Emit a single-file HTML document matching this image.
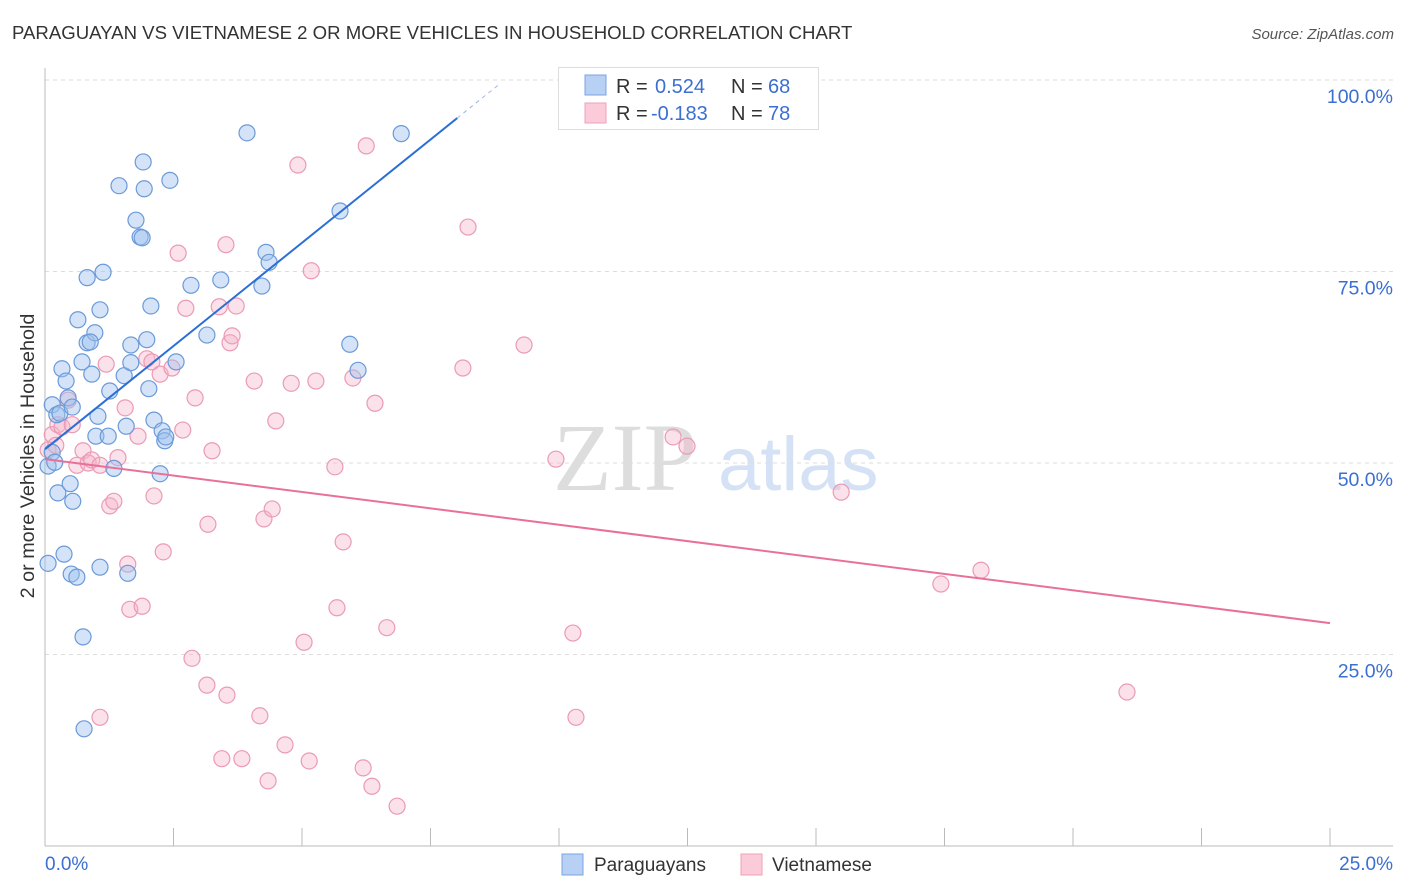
<!DOCTYPE html>
<html><head><meta charset="utf-8"><style>
body{margin:0;background:#fff;font-family:"Liberation Sans",sans-serif;}
#wrap{position:relative;width:1406px;height:892px;overflow:hidden;}
</style></head><body>
<div id="wrap">
<svg id="chart" width="1406" height="892"></svg>
</div>
<script>
const blueX=[0.06,0.14,0.23,0.29,0.14,0.19,0.06,0.25,0.33,0.41,0.45,0.49,0.53,0.54,0.37,0.51,0.62,0.64,0.72,0.82,0.82,0.91,0.97,1.03,0.99,1.07,1.13,1.07,0.74,0.76,1.23,1.26,1.34,1.44,1.54,1.58,1.61,1.67,1.67,1.77,1.85,1.89,1.91,1.93,1.98,2.02,2.06,2.12,2.24,2.28,2.33,2.35,2.43,2.55,2.84,3.15,3.42,3.93,4.30,4.36,4.22,5.74,5.93,6.09,6.93,0.88];
const blueY=[49.6,57.6,56.3,56.5,51.4,50.1,36.9,46.1,62.3,60.7,58.5,47.3,57.3,45.0,38.1,35.5,35.1,68.7,63.2,65.7,74.2,61.6,67.0,56.1,53.5,70.0,74.9,36.4,27.3,15.3,53.5,59.4,49.3,86.2,61.4,54.8,35.6,65.4,63.1,81.7,79.5,79.4,89.3,85.8,66.1,59.7,70.5,55.6,48.6,54.2,52.9,53.4,86.9,63.2,73.2,66.7,73.9,93.1,77.5,76.2,73.1,82.9,65.5,62.1,93.0,65.8];
const pinkX=[0.06,0.14,0.21,0.25,0.33,0.45,0.53,0.62,0.74,0.84,0.91,1.07,1.19,1.26,1.34,1.42,1.56,1.61,1.65,1.81,1.89,1.98,2.08,2.12,2.24,2.30,2.47,2.59,2.68,2.74,2.86,2.92,3.15,3.17,3.25,3.39,3.44,3.52,3.60,3.64,3.72,3.83,4.07,4.18,4.26,4.34,4.42,4.49,4.67,4.79,4.92,5.04,5.14,5.18,5.27,5.64,5.68,5.80,5.99,6.19,6.25,6.36,6.42,6.65,6.85,8.13,8.23,9.32,9.94,10.27,10.33,12.22,12.49,15.49,17.43,18.21,21.05,1.07,3.54];
const pinkY=[51.7,53.7,52.3,55.0,54.7,58.2,55.0,49.7,51.6,50.0,50.4,49.7,62.9,44.4,45.0,50.7,57.2,36.8,30.9,53.5,31.3,63.6,63.2,45.7,61.6,38.4,62.4,77.4,54.3,70.2,24.5,58.5,21.0,42.0,51.6,70.4,11.4,78.5,65.7,66.6,70.5,11.4,60.7,17.0,42.7,8.5,44.0,55.5,13.2,60.4,88.9,26.6,11.1,75.1,60.7,49.5,31.1,39.7,61.1,10.2,91.4,7.8,57.8,28.5,5.2,62.4,80.8,65.4,50.5,27.8,16.8,53.4,52.2,46.2,34.2,36.0,20.1,16.8,19.7];
const yTicks=[25,50,75,100];
const yTickLabels=["25.0%","50.0%","75.0%","100.0%"];
const xTicks=[0,2.5,5,7.5,10,12.5,15,17.5,20,22.5,25];
const blueTrend=[51.8,5.39];
const pinkTrend=[50.5,-0.856];

const NS="http://www.w3.org/2000/svg";
const svg=document.getElementById('chart');
const X0=45,X1=1330,Y0=846,Y100=80;
const sx=v=>X0+(X1-X0)*v/25;
const sy=v=>Y0-(Y0-Y100)*v/100;
function mk(t,a,parent){const e=document.createElementNS(NS,t);for(const k in a)e.setAttribute(k,a[k]);(parent||svg).appendChild(e);return e;}

let t=mk('text',{x:12,y:39,'font-size':18.6,fill:'#333'});t.textContent="PARAGUAYAN VS VIETNAMESE 2 OR MORE VEHICLES IN HOUSEHOLD CORRELATION CHART";


t=mk('text',{x:1394,y:39,'font-size':15,fill:'#555','font-style':'italic','text-anchor':'end'});t.textContent="Source: ZipAtlas.com";



t=mk('text',{x:553,y:490,'font-size':96,fill:'#ddd','font-family':'Liberation Serif, serif'});t.textContent="ZIP";


t=mk('text',{x:718,y:490,'font-size':76,fill:'#d5e2f5'});t.textContent="atlas";



yTicks.forEach((v,i)=>{
 const l=mk('line',{x1:X0,x2:1393,y1:sy(v),y2:sy(v),stroke:'#ddd','stroke-dasharray':'4,4'});
 
 
 const tx=mk('text',{x:1393,y:sy(v)+23,'font-size':19.5,fill:'#3b6fd0','text-anchor':'end'});tx.textContent=yTickLabels[i];
 
 
});
let ax=mk('line',{x1:X0,x2:X0,y1:68,y2:Y0,stroke:'#bbb'});


ax=mk('line',{x1:X0,x2:1393,y1:Y0,y2:Y0,stroke:'#bbb'});


xTicks.forEach(v=>{
 const l=mk('line',{x1:sx(v),x2:sx(v),y1:828,y2:Y0,stroke:'#bbb'});
 
 
});
t=mk('text',{x:45,y:870,'font-size':19,fill:'#3b6fd0'});t.textContent="0.0%";


t=mk('text',{x:1393,y:870,'font-size':19,fill:'#3b6fd0','text-anchor':'end'});t.textContent="25.0%";


t=mk('text',{x:0,y:0,'font-size':19.8,fill:'#333','text-anchor':'middle',transform:'translate(34,456) rotate(-90)'});t.textContent="2 or more Vehicles in Household";



pinkX.forEach((v,i)=>{
 const c=mk('circle',{cx:sx(v),cy:sy(pinkY[i]),r:8,fill:'rgba(246,180,200,0.4)',stroke:'#eb9ab5','stroke-width':1.2});
 
 
});
blueX.forEach((v,i)=>{
 const c=mk('circle',{cx:sx(v),cy:sy(blueY[i]),r:8,fill:'rgba(160,192,238,0.45)',stroke:'#6a9ad9','stroke-width':1.2});
 
 
});

const bEnd=8.02,bDash=8.85;
let ln=mk('line',{x1:sx(0),y1:sy(blueTrend[0]),x2:sx(bEnd),y2:sy(blueTrend[0]+blueTrend[1]*bEnd),stroke:'#2b6fd6','stroke-width':2});


ln=mk('line',{x1:sx(bEnd),y1:sy(blueTrend[0]+blueTrend[1]*bEnd),x2:sx(bDash),y2:sy(blueTrend[0]+blueTrend[1]*bDash),stroke:'#9bb8e6','stroke-width':1,'stroke-dasharray':'4,4'});


ln=mk('line',{x1:sx(0),y1:sy(pinkTrend[0]),x2:sx(25),y2:sy(pinkTrend[0]+pinkTrend[1]*25),stroke:'#e8709a','stroke-width':2});



const g=mk('g',{});


mk('rect',{x:558.5,y:67.5,width:260,height:62,fill:'#fff',stroke:'#ddd'},g);
mk('rect',{x:585,y:75,width:21,height:20,fill:'#b7d0f3',stroke:'#7aa5e0'},g);
mk('rect',{x:585,y:103,width:21,height:20,fill:'#fbcbd9',stroke:'#eea1ba'},g);
function lt(x,y,s,c){const e=mk('text',{x:x,y:y,'font-size':20,fill:c},g);e.textContent=s;return e;}
lt(616,93,"R =","#333");lt(655,93,"0.524","#3b6fd0");lt(731,93,"N =","#333");lt(768,93,"68","#3b6fd0");
lt(616,120,"R =","#333");lt(651,120,"-0.183","#3b6fd0");lt(731,120,"N =","#333");lt(768,120,"78","#3b6fd0");

let r=mk('rect',{x:562,y:854,width:21,height:21,fill:'#b7d0f3',stroke:'#7aa5e0'});


t=mk('text',{x:594,y:871,'font-size':19,fill:'#333'});t.textContent="Paraguayans";


r=mk('rect',{x:741,y:854,width:21,height:21,fill:'#fbcbd9',stroke:'#eea1ba'});


t=mk('text',{x:772,y:871,'font-size':19,fill:'#333'});t.textContent="Vietnamese";


</script>
</body></html>
